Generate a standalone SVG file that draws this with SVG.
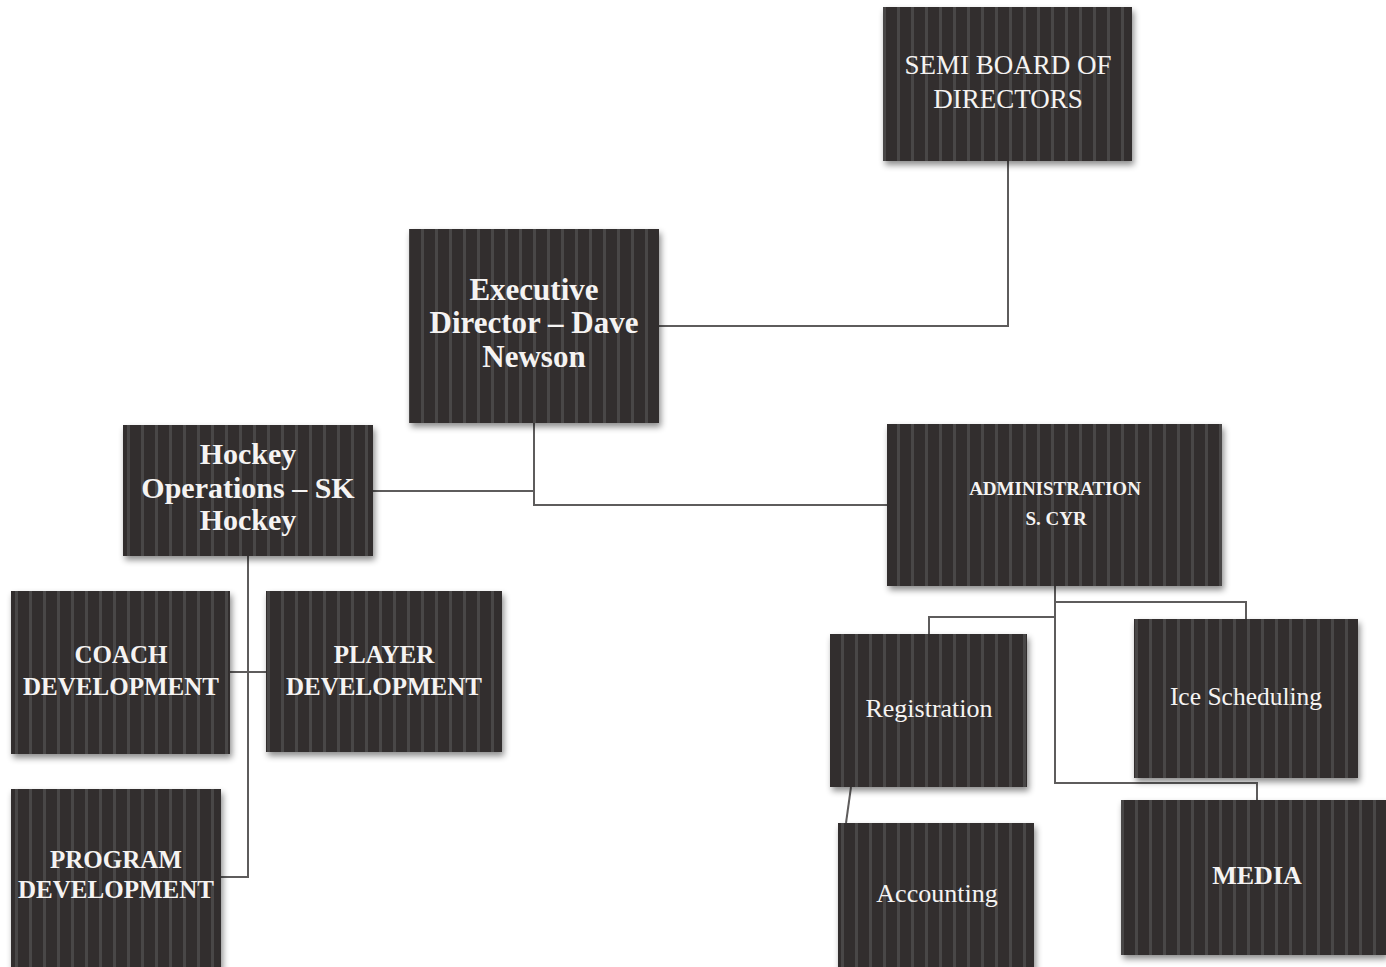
<svg xmlns="http://www.w3.org/2000/svg" width="1386" height="967" viewBox="0 0 1386 967">
<defs>
<pattern id="stripes" patternUnits="userSpaceOnUse" width="14" height="20" x="1">
<rect width="14" height="20" fill="#332f2e"/>
<rect x="0" width="3" height="20" fill="#4a4746"/>
</pattern>
<filter id="shadow" x="-10%" y="-10%" width="130%" height="130%">
<feDropShadow dx="2" dy="4" stdDeviation="3" flood-color="#000" flood-opacity="0.45"/>
</filter>
<style>
.box{fill:url(#stripes);filter:url(#shadow)}
.t{font-family:"Liberation Serif","Times New Roman",serif;fill:#f5f3f2;text-anchor:middle}
.b{font-weight:bold}
.conn{fill:none;stroke:#5e5c5c;stroke-width:2}
</style>
</defs>
<rect width="1386" height="967" fill="#ffffff"/>
<g id="connectors">
<path class="conn" d="M1008 161 V326 H659"/>
<path class="conn" d="M534 423 V505 H887"/>
<path class="conn" d="M373 491 H534"/>
<path class="conn" d="M248 556 V877 H221"/>
<path class="conn" d="M230 672 H266"/>
<path class="conn" d="M1055 586 V783 H1257 V800"/>
<path class="conn" d="M1055 602 H1246 V619"/>
<path class="conn" d="M1055 617 H929 V634"/>
<path class="conn" d="M851 787 L846 823"/>
</g>
<g id="board">
<rect class="box" x="883" y="7" width="249" height="154"/>
<text class="t" x="1008" y="74" font-size="27">SEMI BOARD OF</text>
<text class="t" x="1008" y="108" font-size="27">DIRECTORS</text>
</g>
<g id="executive">
<rect class="box" x="409" y="229" width="250" height="194"/>
<text class="t b" x="534" y="300" font-size="31">Executive</text>
<text class="t b" x="534" y="333" font-size="31">Director – Dave</text>
<text class="t b" x="534" y="367" font-size="31">Newson</text>
</g>
<g id="hockey-ops">
<rect class="box" x="123" y="425" width="250" height="131"/>
<text class="t b" x="248" y="464" font-size="30">Hockey</text>
<text class="t b" x="248" y="498" font-size="30">Operations – SK</text>
<text class="t b" x="248" y="530" font-size="30">Hockey</text>
</g>
<g id="administration">
<rect class="box" x="887" y="424" width="335" height="162"/>
<text class="t b" x="1055" y="495" font-size="19">ADMINISTRATION</text>
<text class="t b" x="1056" y="525" font-size="19">S. CYR</text>
</g>
<g id="coach">
<rect class="box" x="11" y="591" width="219" height="163"/>
<text class="t b" x="121" y="663" font-size="25">COACH</text>
<text class="t b" x="121" y="695" font-size="25">DEVELOPMENT</text>
</g>
<g id="player">
<rect class="box" x="266" y="591" width="236" height="161"/>
<text class="t b" x="384" y="663" font-size="25">PLAYER</text>
<text class="t b" x="384" y="695" font-size="25">DEVELOPMENT</text>
</g>
<g id="program">
<rect class="box" x="11" y="789" width="210" height="190"/>
<text class="t b" x="116" y="868" font-size="25">PROGRAM</text>
<text class="t b" x="116" y="898" font-size="25">DEVELOPMENT</text>
</g>
<g id="registration">
<rect class="box" x="830" y="634" width="197" height="153"/>
<text class="t" x="929" y="717" font-size="26">Registration</text>
</g>
<g id="ice-scheduling">
<rect class="box" x="1134" y="619" width="224" height="159"/>
<text class="t" x="1246" y="705" font-size="25.5">Ice Scheduling</text>
</g>
<g id="accounting">
<rect class="box" x="838" y="823" width="196" height="160"/>
<text class="t" x="937" y="902" font-size="26">Accounting</text>
</g>
<g id="media">
<rect class="box" x="1121" y="800" width="265" height="155"/>
<text class="t b" x="1257" y="884" font-size="26">MEDIA</text>
</g>
</svg>
